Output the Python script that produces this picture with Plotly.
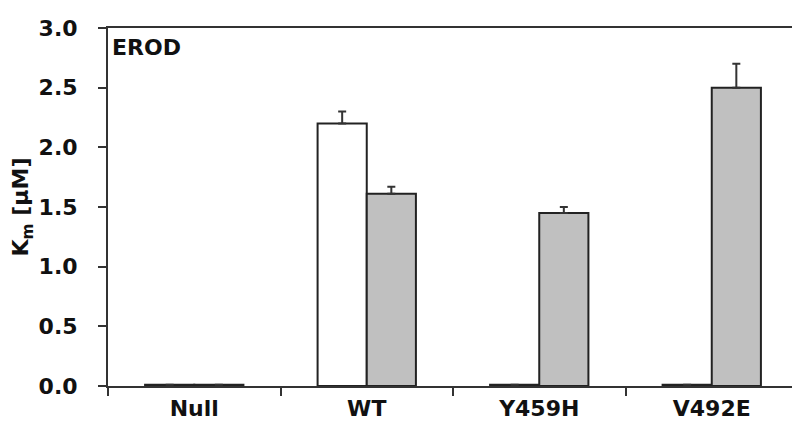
import plotly.graph_objects as go

# EROD Km values per construct
categories = ['Null', 'WT', 'Y459H', 'V492E']
km_white = [0.01, 2.20, 0.01, 0.01]
err_white = [None, 0.10, None, None]
km_gray = [0.01, 1.61, 1.45, 2.50]
err_gray = [None, 0.06, 0.05, 0.20]

AXIS = '#333333'
FONT = 'DejaVu Sans'

fig = go.Figure()

fig.add_trace(go.Bar(
    x=categories, y=km_white,
    marker=dict(color='white', line=dict(color='#222222', width=2)),
    error_y=dict(type='data', array=err_white, arrayminus=[0] * 4,
                 symmetric=False, color='#333333', thickness=2, width=4),
))
fig.add_trace(go.Bar(
    x=categories, y=km_gray,
    marker=dict(color='#c0c0c0', line=dict(color='#222222', width=2)),
    error_y=dict(type='data', array=err_gray, arrayminus=[0] * 4,
                 symmetric=False, color='#333333', thickness=2, width=4),
))

fig.add_annotation(
    text='<b>EROD</b>', x=0.003, y=0.985, xref='paper', yref='paper',
    xanchor='left', yanchor='top', showarrow=False,
    font=dict(family=FONT, size=22, color='#111111'),
)

fig.update_layout(
    width=800, height=434,
    margin=dict(l=100, r=8, t=17, b=56),
    barmode='group', bargap=0.43, bargroupgap=0,
    showlegend=False,
    plot_bgcolor='white', paper_bgcolor='white',
    font=dict(family=FONT, size=22, color='#111111'),
)

fig.update_xaxes(
    type='category', tickson='boundaries',
    showline=True, linecolor=AXIS, linewidth=2, mirror=True,
    ticks='outside', ticklen=8, tickwidth=2, tickcolor=AXIS,
    tickfont=dict(family=FONT, size=22, color='#111111'),
    ticklabelstandoff=2,
    showgrid=False, zeroline=False,
    tickprefix='<b>', ticksuffix='</b>',
)
fig.update_yaxes(
    range=[0, 3], dtick=0.5, tickformat='.1f',
    showline=True, linecolor=AXIS, linewidth=2, mirror=True,
    ticks='outside', ticklen=8, tickwidth=2, tickcolor=AXIS,
    tickfont=dict(family=FONT, size=22, color='#111111'),
    ticklabelstandoff=16,
    tickprefix='<b>', ticksuffix='</b>',
    showgrid=False, zeroline=False,
    title=dict(text='<b>K<sub>m</sub> [μM]</b>', standoff=4,
               font=dict(family=FONT, size=22, color='#111111')),
)

fig.write_html('out.html')
